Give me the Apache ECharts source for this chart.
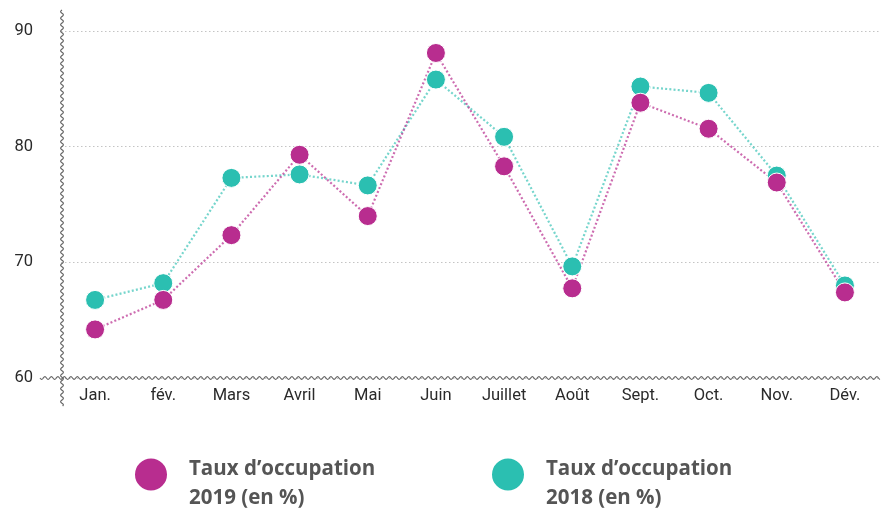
<!DOCTYPE html>
<html>
<head>
<meta charset="utf-8">
<script src="https://cdn.jsdelivr.net/npm/echarts@6/dist/echarts.min.js"></script>
<style>
  html, body { margin: 0; padding: 0; background: #fff; }
  #chart { width: 885px; height: 508px; }
</style>
</head>
<body>
<div id="chart"></div>
<script>
var months = ["Jan.", "fév.", "Mars", "Avril", "Mai", "Juin", "Juillet", "Août", "Sept.", "Oct.", "Nov.", "Dév."];
var taux2019 = [64.2, 66.75, 72.35, 79.3, 74.0, 88.1, 78.3, 67.75, 83.8, 81.55, 76.9, 67.4];
var taux2018 = [66.75, 68.2, 77.3, 77.6, 76.65, 85.8, 80.85, 69.65, 85.2, 84.65, 77.5, 68.0];
var yMin = 60, yMax = 90, yStep = 10;

var magenta = "#b82d8f";
var teal = "#2bbfb1";

var chart = echarts.init(document.getElementById("chart"));

function serie(name, data, color, lineColor) {
	return {
		name: name,
		type: "line",
		data: data,
		symbol: "circle",
		symbolSize: 19,
		itemStyle: { color: color, borderColor: "#fff", borderWidth: 1 },
		lineStyle: { color: lineColor, width: 2.2, type: [2, 2.2] },
		emphasis: { disabled: true },
		z: 3
	};
}

var legendText = {
	fontFamily: "Open Sans",
	fontWeight: "bold",
	fontSize: 20.5,
	lineHeight: 28.5,
	color: "#555",
	padding: [0, 0, 0, 16],
	rich: { s: { lineHeight: 18, fontSize: 10 } }
};

function legende(left, name) {
	return {
		left: left, top: 432,
		itemWidth: 34, itemHeight: 34,
		icon: "circle",
		selectedMode: false,
		data: [{ name: name }],
		formatter: function(n) { return "{s|}\n" + n; },
		textStyle: legendText
	};
}

var option = {
	animation: false,
	grid: { left: 61, right: 6, top: 31, bottom: 130 },
	xAxis: {
		type: "category",
		data: months,
		boundaryGap: true,
		axisLine: { show: false },
		axisTick: { show: false },
		axisLabel: { color: "#2a2a2a", fontFamily: "Roboto", fontSize: 16.5, margin: 9 }
	},
	yAxis: {
		type: "value",
		min: yMin,
		max: yMax,
		interval: yStep,
		axisLine: { show: false },
		axisTick: { show: false },
		axisLabel: { color: "#2a2a2a", fontFamily: "Roboto", fontSize: 16.5, margin: 28 },
		splitLine: { lineStyle: { color: "#c4c4c4", width: 1, type: [1.5, 2.5] } }
	},
	legend: [
		legende(128, "Taux d’occupation\n2019 (en %)"),
		legende(485, "Taux d’occupation\n2018 (en %)")
	],
	series: [
		serie("Taux d’occupation\n2018 (en %)", taux2018, teal, "rgba(43,191,177,0.65)"),
		serie("Taux d’occupation\n2019 (en %)", taux2019, magenta, "rgba(184,45,143,0.7)")
	]
};
chart.setOption(option);

// axes ondulés
function wave(x0, y0, x1, y1, amp, len) {
	var dx = x1 - x0, dy = y1 - y0;
	var d = Math.sqrt(dx * dx + dy * dy);
	var nx = -dy / d, ny = dx / d;
	var pts = [];
	for (var s = 0; s <= d; s += 0.5) {
		var o = amp * Math.sin(s / len * Math.PI * 2);
		pts.push([x0 + dx * s / d + nx * o, y0 + dy * s / d + ny * o]);
	}
	return pts;
}
var pBas = chart.convertToPixel({ gridIndex: 0 }, [0, yMin]);
var pHaut = chart.convertToPixel({ gridIndex: 0 }, [0, yMax]);
var gx = 62;
var gy = pBas[1];
chart.setOption({
	graphic: [{
		type: "polyline",
		shape: { points: wave(gx, pHaut[1] - 21, gx, gy + 28, 1.4, 6.5) },
		style: { stroke: "#666", lineWidth: 1.1, fill: null },
		z: 10
	}, {
		type: "polyline",
		shape: { points: wave(40, gy, 880, gy, 1.4, 6.5) },
		style: { stroke: "#666", lineWidth: 1.1, fill: null },
		z: 10
	}]
});
</script>
</body>
</html>
